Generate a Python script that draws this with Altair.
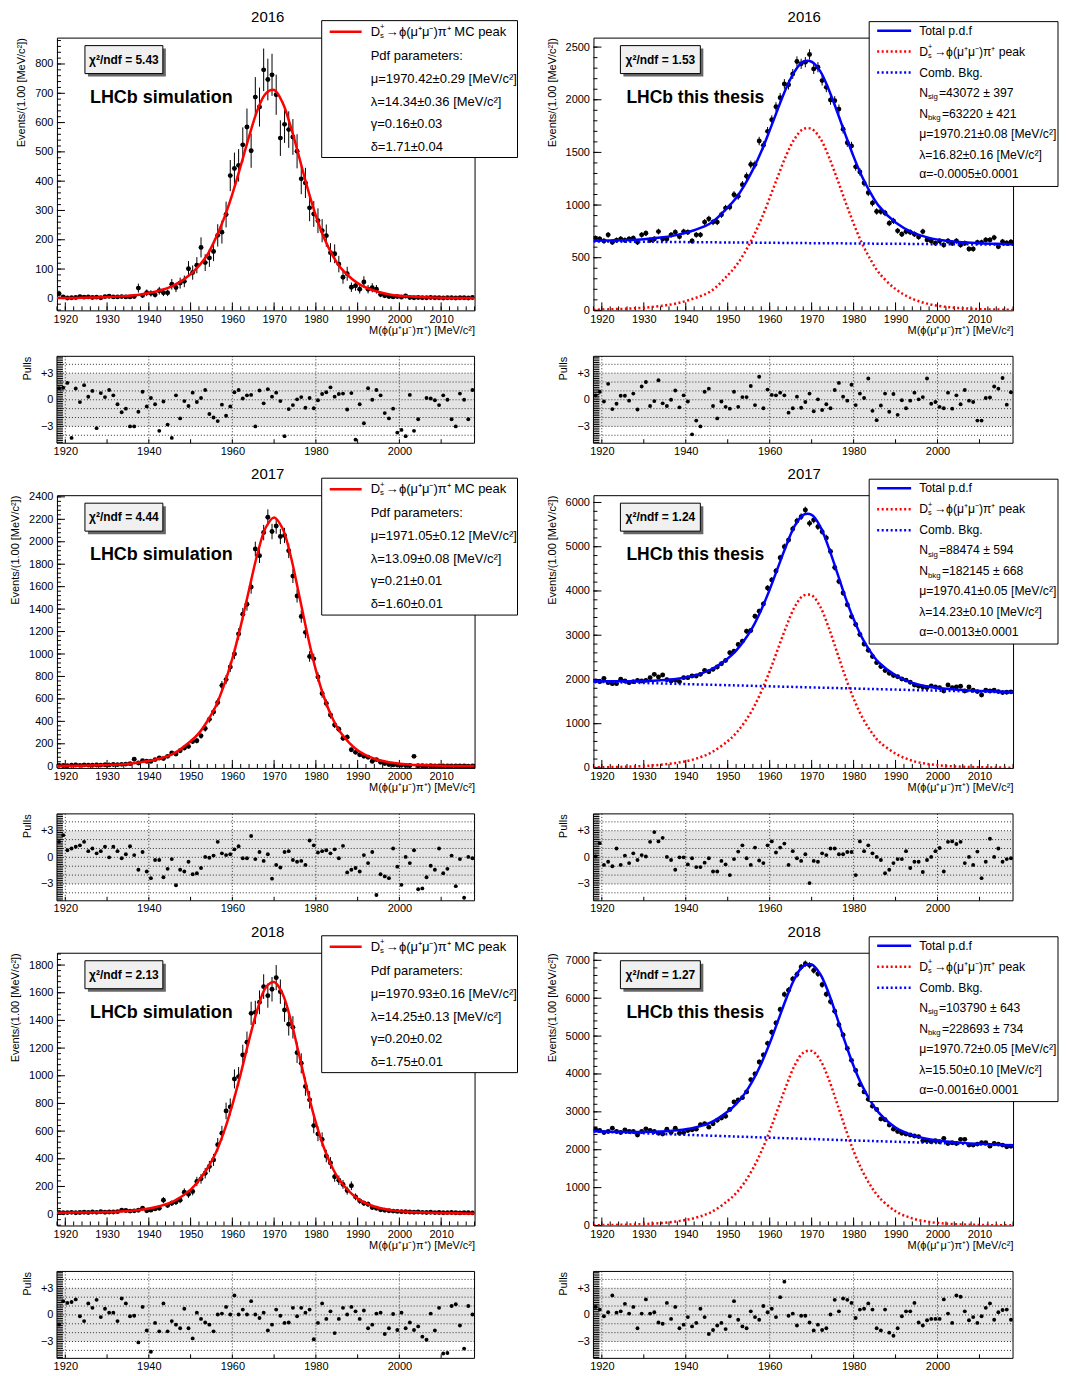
import math
import altair as alt
import pandas as pd

FONT = "Liberation Sans"

# ------------------------------------------------------------------ labels
YEARS = ["2016", "2017", "2018"]
Y_TITLE = "Events/(1.00 [MeV/c²])"
X_TITLE = "M(ϕ(μ⁺μ⁻)π⁺) [MeV/c²]"
MC_CHI2 = ["5.43", "4.44", "2.13"]
DATA_CHI2 = ["1.53", "1.24", "1.27"]
MC_PARAMS = [
    ["μ=1970.42±0.29 [MeV/c²]", "λ=14.34±0.36 [MeV/c²]", "γ=0.16±0.03", "δ=1.71±0.04"],
    ["μ=1971.05±0.12 [MeV/c²]", "λ=13.09±0.08 [MeV/c²]", "γ=0.21±0.01", "δ=1.60±0.01"],
    ["μ=1970.93±0.16 [MeV/c²]", "λ=14.25±0.13 [MeV/c²]", "γ=0.20±0.02", "δ=1.75±0.01"],
]
DATA_NSIG = ["=43072 ± 397", "=88474 ± 594", "=103790 ± 643"]
DATA_NBKG = ["=63220 ± 421", "=182145 ± 668", "=228693 ± 734"]
DATA_PARAMS = [
    ["μ=1970.21±0.08 [MeV/c²]", "λ=16.82±0.16 [MeV/c²]", "α=-0.0005±0.0001"],
    ["μ=1970.41±0.05 [MeV/c²]", "λ=14.23±0.10 [MeV/c²]", "α=-0.0013±0.0001"],
    ["μ=1970.72±0.05 [MeV/c²]", "λ=15.50±0.10 [MeV/c²]", "α=-0.0016±0.0001"],
]

# ------------------------------------------------------------------ axes
MC_Y_DOMAIN = [[-41, 890], [-15, 2415], [-82, 1889]]
MC_Y_TICKS = [list(range(0, 801, 100)), list(range(0, 2401, 200)), list(range(0, 1801, 200))]
MC_Y_MINOR = [20, 40, 40]
DATA_Y_DOMAIN = [[0, 2590], [0, 6165], [0, 7200]]
DATA_Y_TICKS = [list(range(0, 2501, 500)), list(range(0, 6001, 1000)), list(range(0, 7001, 1000))]
DATA_Y_MINOR = [100, 200, 200]
MC_ERR_SCALE = [2.6, 1.5, 2.2]   # MC weights inflate the errors w.r.t. sqrt(N)

BIN_CENTRES = [1918.5 + i for i in range(100)]
CURVE_X = [1918, 1922, 1926, 1930, 1934, 1938, 1942, 1946, 1950, 1952, 1954, 1956,
           1958, 1960, 1962, 1964, 1966, 1968, 1970, 1972, 1974, 1976, 1978, 1980,
           1982, 1984, 1986, 1990, 1994, 1998, 2002, 2006, 2010, 2014, 2018]

# ------------------------------------------------------------------ MC histograms
L16_COUNTS = [16, 5, 1, 2, 3, 6, 4, 5, 3, 4,
              2, 6, 7, 5, 5, 6, 5, 5, 6, 35,
              10, 19, 17, 12, 26, 19, 19, 48, 37, 52,
              58, 101, 88, 113, 174, 122, 138, 160, 215, 226,
              286, 419, 443, 454, 524, 585, 504, 687, 653, 780,
              747, 763, 695, 547, 594, 576, 551, 502, 408, 394,
              309, 288, 265, 231, 214, 156, 152, 117, 72, 84,
              38, 43, 31, 56, 31, 36, 31, 13, 9, 6,
              5, 6, 4, 8, 3, 2, 3, 2, 2, 3,
              2, 2, 1, 2, 2, 1, 2, 2, 1, 3]
L17_COUNTS = [8, 6, 5, 9, 11, 8, 12, 10, 9, 11,
              10, 13, 12, 15, 14, 17, 19, 23, 62, 29,
              50, 44, 44, 59, 74, 68, 88, 118, 109, 138,
              162, 177, 221, 227, 271, 336, 418, 483, 568, 719,
              772, 884, 1001, 1178, 1355, 1443, 1597, 1935, 1876, 2082,
              2218, 2091, 2141, 2047, 2056, 1920, 1694, 1517, 1334, 1193,
              978, 957, 795, 648, 560, 457, 368, 330, 250, 259,
              147, 124, 103, 88, 80, 44, 59, 35, 24, 15,
              12, 10, 8, 7, 6, 88, 5, 4, 3, 4,
              3, 2, 3, 2, 2, 3, 2, 2, 1, 2]
L18_COUNTS = [12, 10, 11, 13, 10, 12, 14, 12, 15, 13,
              17, 14, 16, 15, 18, 29, 26, 22, 24, 28,
              43, 24, 29, 38, 43, 101, 63, 79, 87, 101,
              159, 144, 164, 236, 255, 296, 344, 392, 501, 585,
              746, 775, 977, 994, 1150, 1242, 1451, 1458, 1531, 1644,
              1579, 1625, 1709, 1608, 1475, 1372, 1350, 1167, 1090, 922,
              826, 640, 580, 540, 420, 370, 270, 245, 215, 170,
              205, 125, 96, 79, 72, 48, 43, 31, 28, 25,
              22, 20, 18, 17, 15, 14, 16, 13, 12, 14,
              11, 12, 10, 11, 12, 10, 9, 11, 10, 9]

# ------------------------------------------------------------------ data histograms
R16_COUNTS = [685, 678, 659, 717, 646, 666, 678, 666, 678, 685,
              646, 717, 732, 666, 678, 748, 678, 678, 717, 742,
              700, 748, 742, 659, 717, 717, 838, 869, 838, 838,
              908, 971, 981, 1099, 1083, 1194, 1274, 1385, 1385, 1608,
              1567, 1700, 1810, 1933, 2020, 2150, 2143, 2245, 2363, 2341,
              2357, 2430, 2293, 2309, 2182, 2118, 1997, 1990, 1911, 1720,
              1592, 1561, 1363, 1315, 1210, 1118, 1019, 939, 939, 924,
              828, 850, 755, 723, 748, 742, 723, 697, 748, 669,
              659, 637, 659, 621, 659, 637, 659, 621, 637, 583,
              583, 646, 646, 669, 669, 691, 605, 653, 640, 650]
R17_COUNTS = [1965, 1950, 2025, 1928, 1905, 1905, 2003, 1965, 1928, 1950,
              1980, 1965, 1980, 2040, 2115, 2055, 2100, 1995, 1965, 1980,
              1950, 2040, 2040, 2078, 2078, 2115, 2205, 2175, 2228, 2280,
              2355, 2430, 2603, 2640, 2790, 2865, 3090, 3105, 3428, 3540,
              3705, 4066, 4250, 4450, 4750, 5000, 5153, 5400, 5581, 5679,
              5829, 5528, 5604, 5454, 5341, 5200, 4891, 4531, 4216, 3953,
              3691, 3420, 3241, 3016, 2800, 2660, 2520, 2380, 2290, 2200,
              2140, 2090, 2060, 2010, 1985, 1935, 1875, 1845, 1830, 1815,
              1853, 1830, 1815, 1740, 1875, 1815, 1830, 1845, 1740, 1830,
              1755, 1725, 1650, 1755, 1740, 1755, 1725, 1703, 1710, 1720]
R18_COUNTS = [2543, 2507, 2453, 2480, 2569, 2480, 2453, 2525, 2480, 2480,
              2390, 2480, 2551, 2507, 2480, 2435, 2417, 2543, 2453, 2569,
              2435, 2453, 2507, 2525, 2543, 2659, 2686, 2596, 2686, 2775,
              2838, 2883, 3062, 3259, 3312, 3375, 3527, 3850, 4002, 4315,
              4500, 4808, 5103, 5345, 5700, 6100, 6213, 6508, 6625, 6822,
              6911, 6867, 6732, 6643, 6356, 6106, 5909, 5658, 5300, 5031,
              4673, 4360, 4091, 3720, 3527, 3330, 3151, 3062, 2811, 2793,
              2650, 2543, 2480, 2435, 2417, 2390, 2363, 2346, 2238, 2238,
              2211, 2238, 2211, 2301, 2166, 2184, 2166, 2274, 2274, 2122,
              2122, 2149, 2184, 2184, 2095, 2166, 2149, 2122, 2077, 2090]

# ------------------------------------------------------------------ fitted curves (at CURVE_X)
L16_FIT = [1.0, 1.6, 2.6, 4.4, 7.6, 13.3, 24, 44, 82, 111, 148, 205, 273, 356, 452, 552,
           642, 699, 711, 669, 585, 482, 376, 282, 205, 147, 103, 52, 26, 12.5, 6.8, 3.7,
           2.2, 1.1, 0.7]
L17_FIT = [2.6, 4.3, 7.1, 11.5, 18.5, 36, 62, 114, 222, 295, 401, 532, 722, 958, 1248, 1573,
           1891, 2127, 2217, 2120, 1869, 1524, 1171, 857, 610, 425, 296, 142, 67, 33, 16.5, 9,
           4.7, 2.9, 1.8]
L18_FIT = [10, 11, 12, 15, 21, 32, 53, 94, 177, 245, 330, 440, 596, 790, 1015, 1258,
           1478, 1638, 1677, 1594, 1402, 1150, 891, 661, 474, 333, 232, 112, 55, 29, 17, 11,
           8, 6, 5]
R16_SIG = [6, 10, 16, 25, 41, 68, 114, 183, 333, 424, 546, 694, 867, 1067, 1277, 1477,
           1632, 1723, 1723, 1636, 1468, 1259, 1038, 825, 637, 485, 359, 202, 110, 59, 33, 20,
           11, 8, 4]
R16_BKG = [655, 654, 652, 651, 650, 649, 647, 646, 645, 644, 644, 643, 642, 642, 641, 640,
           640, 639, 638, 638, 637, 637, 636, 635, 635, 634, 633, 632, 631, 629, 628, 627,
           626, 624, 623]
R16_TOT = [661, 664, 668, 676, 691, 717, 761, 829, 978, 1068, 1190, 1337, 1509, 1709, 1918, 2117,
           2272, 2362, 2361, 2274, 2105, 1896, 1674, 1460, 1272, 1119, 992, 834, 741, 688, 661, 647,
           637, 632, 627]
R17_SIG = [11, 18, 27, 44, 71, 117, 196, 345, 605, 788, 1031, 1335, 1727, 2186, 2698, 3206,
           3645, 3893, 3901, 3653, 3188, 2632, 2068, 1569, 1156, 844, 604, 324, 161, 85, 46, 26,
           15, 9, 5]
R17_BKG = [1950, 1940, 1930, 1920, 1910, 1900, 1890, 1880, 1870, 1865, 1860, 1855, 1850, 1845,
           1840, 1835, 1830, 1825, 1820, 1815, 1810, 1805, 1800, 1795, 1790, 1785, 1780, 1771,
           1761, 1752, 1743, 1734, 1725, 1716, 1712]
R17_TOT = [1961, 1958, 1957, 1964, 1981, 2017, 2086, 2225, 2475, 2653, 2891, 3190, 3577, 4031,
           4538, 5041, 5475, 5718, 5721, 5468, 4998, 4437, 3868, 3364, 2946, 2629, 2384, 2095,
           1922, 1837, 1789, 1760, 1740, 1725, 1717]
R18_SIG = [8, 13, 22, 37, 63, 110, 194, 349, 652, 855, 1133, 1500, 1953, 2491, 3096, 3703,
           4235, 4559, 4609, 4373, 3884, 3245, 2580, 1965, 1460, 1062, 754, 376, 187, 95, 50, 26,
           14, 8, 4]
R18_BKG = [2480, 2464, 2448, 2433, 2417, 2402, 2386, 2371, 2356, 2348, 2341, 2333, 2326, 2318,
           2311, 2304, 2296, 2289, 2282, 2274, 2267, 2260, 2253, 2246, 2239, 2232, 2225, 2211,
           2197, 2183, 2169, 2155, 2141, 2127, 2113]
R18_TOT = [2488, 2477, 2470, 2470, 2480, 2512, 2580, 2720, 3008, 3203, 3474, 3833, 4279, 4809,
           5407, 6007, 6531, 6848, 6891, 6647, 6151, 5505, 4833, 4211, 3699, 3294, 2979, 2587,
           2384, 2278, 2219, 2181, 2155, 2135, 2117]

# ------------------------------------------------------------------ pulls
L16_PULL = [1.3, 1.35, 1.9, -4.3, 1.27, -0.26, 1.65, 0.34, 1.0, -3.2,
            0.75, 0.3, 1.1, 0.5, -0.5, -1.4, -1.0, -3.0, -3.0, -1.35,
            0.9, -0.75, 0.2, -0.5, -3.5, -0.2, -2.8, -4.3, 0.5, -2.1,
            -0.15, -0.7, 0.8, -0.25, 0.2, 1.1, -1.6, -2.0, -2.4, -0.55,
            -1.8, -0.75, 0.85, 1.1, 0.15, 0.5, 0.55, -3.0, 1.05, -0.4,
            1.2, 0.35, 0.8, -0.15, -4.1, -1.05, -0.6, 0.05, 0.3, -0.9,
            0.2, -0.95, -0.05, 0.65, 0.85, 1.4, 0.35, 0.65, 0.7, -1.1,
            0.75, -4.5, -0.5, -2.65, 1.3, 0.0, 1.1, 0.5, -1.5, -2.1,
            -1.0, -3.7, -3.4, -4.1, 0.55, -3.5, -2.2, None, 0.2, 0.15,
            -0.05, -0.6, 0.5, 0.0, -2.2, -3.0, 0.7, 0.0, -2.2, 1.1]
R16_PULL = [0.5, 0.9, -0.2, 1.8, -1.05, -0.45, 0.45, 0.45, -0.1, 0.7,
            -1.1, 1.5, 2.0, -0.7, -0.15, 2.2, -0.4, -0.7, 0.0, 1.05,
            -0.85, 0.5, -0.2, -3.9, -2.35, -3.0, 0.9, 1.25, -0.7, -2.1,
            -0.2, -0.8, -1.0, 0.9, -0.8, 0.3, 0.3, 1.55, -0.6, 2.6,
            -0.95, 1.15, 0.55, 0.5, 0.8, 0.5, -1.45, -0.95, 0.35, -0.9,
            -0.25, 0.7, -1.3, 0.05, -1.15, -0.5, -0.95, 1.1, 1.9, 0.35,
            -0.1, 1.7, -0.6, 0.7, 0.2, 2.4, -1.25, -2.3, -0.65, 0.7,
            -1.35, 0.65, -1.7, -0.05, -0.95, -0.1, 0.8, 0.05, 0.3, 2.4,
            -0.45, -0.25, -0.8, -0.95, 0.8, -1.0, 0.5, -0.5, 1.1, -0.1,
            -0.25, -2.35, -2.35, 0.2, 0.25, 1.5, 1.25, 2.45, -0.55, 0.85]
L17_PULL = [1.75, 2.5, 0.8, 1.0, 1.2, 1.35, 1.75, 0.7, 1.0, 0.45,
            0.7, 1.2, 0.0, 1.2, 0.7, -0.1, 0.35, 1.25, 0.25, -1.4,
            0.6, -1.6, -2.35, -0.3, -0.3, -2.25, -1.3, -0.2, -3.15, -1.4,
            -1.6, -0.5, -1.9, -1.8, -1.2, 0.05, -0.05, 0.2, 1.75, 0.45,
            0.25, 0.35, 0.9, 1.25, -0.1, -0.1, 2.4, -0.2, 0.6, -0.4,
            0.35, -2.4, -0.85, -1.15, 0.6, 0.7, -0.3, -0.5, -0.4, -0.85,
            1.9, 1.35, 0.55, 0.7, 0.8, 0.45, 0.9, -0.1, 1.3, -1.7,
            -1.4, -1.2, -1.6, 0.25, -0.65, 0.6, -4.25, -1.9, -2.15, -2.35,
            1.0, -1.05, -3.1, 0.05, -0.65, 0.8, -3.6, -3.5, -2.25, -0.95,
            -1.4, 1.0, -1.8, -1.3, 0.2, -3.25, -0.2, -4.55, 0.05, -0.1]
R17_PULL = [0.1, 1.6, -0.85, -0.5, -1.0, 1.0, -0.85, 0.2, -0.65, 0.45,
            -0.3, 0.25, 0.1, 1.75, 2.85, 1.8, 2.2, 0.05, -0.3, -1.4,
            0.0, 0.0, -0.8, -0.1, -1.1, -1.1, -0.6, -0.1, -1.6, -1.6,
            -0.4, -0.8, -2.0, -0.2, 0.65, 1.35, -0.1, -0.85, 1.1, -0.35,
            -0.65, 1.35, 1.8, 0.55, 1.1, 1.55, -0.85, 0.7, -0.1, -0.4,
            0.35, -2.9, -0.4, -0.5, 0.45, 0.25, 1.0, 1.0, 0.35, 0.35,
            0.6, 0.6, -2.0, 1.8, 0.7, 1.35, 0.45, 0.05, -0.3, -1.8,
            -1.4, -0.65, -0.2, -0.2, 0.7, -1.2, -0.5, -0.5, -1.65, -0.3,
            0.05, 0.7, 1.05, -1.6, 1.75, 1.8, 1.5, 1.75, -0.65, 0.05,
            -0.85, 0.65, -2.35, -0.5, 2.1, 0.05, 1.0, -0.5, -0.2, -0.1]
L18_PULL = [-1.1, 1.55, 1.35, 1.45, 1.75, -0.15, -0.7, 1.3, 0.8, 1.7,
            -0.25, 0.7, 0.25, 0.25, -0.7, 1.85, 1.3, -0.15, -0.1, -3.1,
            0.9, -1.75, -4.15, -0.9, -1.85, 1.3, -1.85, -0.7, -1.1, -1.5,
            0.7, -1.5, -2.65, 0.25, -0.45, -0.85, -1.1, -1.85, 0.05, 0.15,
            0.9, 0.05, 2.2, 0.05, 0.6, 0.05, 1.55, 0.05, -0.35, 0.25,
            -1.75, -1.1, 0.6, -0.1, -0.9, -0.85, 0.8, -0.15, 0.8, 0.25,
            0.6, -2.75, -0.9, 1.3, -0.45, 0.4, -2.05, -0.45, 0.8, 0.05,
            0.9, 0.4, -0.45, 0.5, -1.5, -1.1, 0.15, 0.25, -2.15, -1.5,
            0.1, -1.7, 0.25, -1.5, -0.85, -1.7, -1.3, -2.45, -2.8, 0.15,
            -1.75, 0.8, -4.35, -4.3, 1.0, 1.2, -1.2, -3.8, 1.0, 0.05]
R18_PULL = [0.9, 0.6, -0.15, 0.3, 2.2, 0.25, 0.4, 1.25, 0.15, 0.9,
            -1.5, 0.15, 1.75, 0.15, 0.3, -0.85, -1.0, 1.35, -0.45, 0.9,
            -1.5, -1.1, -0.25, -1.3, -0.9, 0.7, -0.25, -2.15, -1.7, -1.2,
            -0.9, -1.6, -0.15, 1.55, -0.55, -1.3, -1.5, 0.4, -0.25, -0.55,
            1.0, 0.3, 0.7, -0.25, 2.0, 3.75, -0.1, 0.15, -1.2, -0.1,
            -0.1, -0.85, -1.75, -1.1, -1.7, -1.5, 0.05, 1.7, 0.4, 1.85,
            1.7, 1.35, -0.35, 0.6, 0.7, 1.3, 0.6, -1.5, -1.75, 0.6,
            -2.0, -2.35, -1.5, -0.15, 0.4, 0.4, 1.35, -0.85, -1.2, -0.6,
            -0.45, -0.45, -0.45, 1.75, 0.15, -0.9, 2.2, 2.05, 0.4, -0.6,
            -0.25, -0.9, -0.15, 0.8, 1.3, -0.55, 0.3, 0.55, 0.6, -0.55]

MC_COUNTS = [L16_COUNTS, L17_COUNTS, L18_COUNTS]
MC_FITS = [L16_FIT, L17_FIT, L18_FIT]
DATA_COUNTS = [R16_COUNTS, R17_COUNTS, R18_COUNTS]
DATA_CURVES = [(R16_TOT, R16_SIG, R16_BKG), (R17_TOT, R17_SIG, R17_BKG), (R18_TOT, R18_SIG, R18_BKG)]
MC_PULLS = [L16_PULL, L17_PULL, L18_PULL]
DATA_PULLS = [R16_PULL, R17_PULL, R18_PULL]

# ------------------------------------------------------------------ geometry / style
W_L, W_R = 418, 420
H_MAIN, H_PULL = 273, 87
ROW_SPACING, COL_SPACING = 49, 119
PULL_SHIFT = 3
RED, BLUE = "#ff0000", "#0000ff"
DOTS = [2, 2.5]
LEG_FS_MC = 13
LEG_FS_DATA = 12.2
ONE = pd.DataFrame({"k": [0]})


def txt(s, x, y, size=12.0, weight="normal", align="left"):
    return alt.Chart(ONE).mark_text(
        text=s, align=align, baseline="middle", font=FONT, fontSize=size,
        fontWeight=weight, color="black").encode(x=alt.value(x), y=alt.value(y))


def rect(x1, y1, x2, y2, fill, stroke=""):
    kw = dict(fill=fill)
    if stroke:
        kw.update(stroke=stroke, strokeWidth=1)
    return alt.Chart(ONE).mark_rect(**kw).encode(
        x=alt.value(x1), x2=alt.value(x2), y=alt.value(y1), y2=alt.value(y2))


def seg(x1, y1, x2, y2, color, width=1.0, dash=None):
    kw = dict(color=color, strokeWidth=width)
    if dash:
        kw["strokeDash"] = dash
    return alt.Chart(ONE).mark_rule(**kw).encode(
        x=alt.value(x1), x2=alt.value(x2), y=alt.value(y1), y2=alt.value(y2))


def ds_label(x, y, rest, size):
    dx = 0.72 * size
    return [txt("D", x, y, size), txt("+", x + dx, y - 4.5, size * 0.6),
            txt("s", x + dx, y + 4, size * 0.6), txt(rest, x + dx + 6, y, size)]


def n_label(x, y, sub, rest, size, subw):
    dx = 0.72 * size
    return [txt("N", x, y, size), txt(sub, x + dx, y + 4.5, size * 0.64),
            txt(rest, x + dx + subw, y, size)]


def chi_box(x1, y1, x2, y2, label):
    return [rect(x1 + 3, y1 + 3, x2 + 3, y2 + 3, "#666666"),
            rect(x1, y1, x2, y2, "#f0f0f0", "black"),
            txt(label, (x1 + x2) / 2, (y1 + y2) / 2, 12, weight="bold", align="center")]


def axis_common():
    return dict(ticks=False, domain=False, grid=False, labelFont=FONT, labelFontSize=11,
                labelColor="black", labelOverlap=False, labelFlush=False,
                titleFont=FONT, titleFontSize=11, titleFontWeight="normal",
                titleColor="black", titleAnchor="end")


def main_panel(width, counts, err_scale, ydom, ymajor, yminor, curves, decor):
    xs = alt.Scale(domain=[1918, 2018], nice=False, zero=False)
    ys = alt.Scale(domain=ydom, nice=False, zero=False)
    xax = alt.Axis(values=list(range(1920, 2011, 10)), format="d", labelPadding=3,
                   title=X_TITLE, titlePadding=0, **axis_common())
    yax = alt.Axis(values=ymajor, format="d", labelPadding=4, title=Y_TITLE,
                   titlePadding=8, **axis_common())

    def X(f):
        return alt.X(f"{f}:Q", scale=xs, axis=xax)

    def Y(f):
        return alt.Y(f"{f}:Q", scale=ys, axis=yax)

    H = H_MAIN
    layers = []
    ymin_vals = [k * yminor for k in range(math.ceil(ydom[0] / yminor), math.floor(ydom[1] / yminor) + 1)]
    layers.append(alt.Chart(pd.DataFrame({"t": ymin_vals})).mark_rule(color="black", strokeWidth=1)
                  .encode(y=Y("t"), x=alt.value(0), x2=alt.value(4)))
    layers.append(alt.Chart(pd.DataFrame({"t": ymajor})).mark_rule(color="black", strokeWidth=1)
                  .encode(y=Y("t"), x=alt.value(0), x2=alt.value(8)))
    layers.append(alt.Chart(pd.DataFrame({"t": list(range(1918, 2019, 2))})).mark_rule(color="black", strokeWidth=1)
                  .encode(x=X("t"), y=alt.value(H), y2=alt.value(H - 4)))
    layers.append(alt.Chart(pd.DataFrame({"t": list(range(1920, 2011, 10))})).mark_rule(color="black", strokeWidth=1)
                  .encode(x=X("t"), y=alt.value(H), y2=alt.value(H - 8)))

    hist = pd.DataFrame({"m": BIN_CENTRES, "n": counts})
    hist["e"] = [err_scale * math.sqrt(v) for v in counts]
    hist["lo"] = hist["n"] - hist["e"]
    hist["hi"] = hist["n"] + hist["e"]
    hist["ml"] = hist["m"] - 0.5
    hist["mr"] = hist["m"] + 0.5
    base = alt.Chart(hist)
    layers.append(base.mark_rule(color="black", strokeWidth=1, clip=True)
                  .encode(x=X("m"), y=Y("lo"), y2=alt.Y2("hi")))
    layers.append(base.mark_rule(color="black", strokeWidth=1, clip=True)
                  .encode(x=X("ml"), x2=alt.X2("mr"), y=Y("n")))
    layers.append(base.mark_circle(color="black", size=24, opacity=1, clip=True)
                  .encode(x=X("m"), y=Y("n")))
    for vals, color, dash in curves:
        cdf = pd.DataFrame({"x": CURVE_X, "v": vals})
        kw = dict(color=color, strokeWidth=2.5, interpolate="catmull-rom", clip=True)
        if dash:
            kw["strokeDash"] = dash
        layers.append(alt.Chart(cdf).mark_line(**kw).encode(x=X("x"), y=Y("v")))
    layers.extend(decor)
    return alt.layer(*layers).properties(width=width, height=H)


def pull_panel(width, pulls):
    top, bot = -PULL_SHIFT, H_PULL - PULL_SHIFT
    xs = alt.Scale(domain=[1918, 2018], nice=False, zero=False)
    ys = alt.Scale(domain=[-4.9, 4.9], range=[bot, top], nice=False, zero=False)
    xax = alt.Axis(values=[1920, 1940, 1960, 1980, 2000], format="d", labelPadding=2,
                   offset=-PULL_SHIFT, title="", **axis_common())
    yax = alt.Axis(values=[-3, 0, 3], labelPadding=4, title="Pulls", titlePadding=8,
                   labelExpr="datum.value > 0 ? '+' + datum.value : (datum.value < 0 ? '−' + (-datum.value) : '0')",
                   **axis_common())

    def X(f):
        return alt.X(f"{f}:Q", scale=xs, axis=xax)

    def Y(f):
        return alt.Y(f"{f}:Q", scale=ys, axis=yax)

    layers = []
    layers.append(alt.Chart(pd.DataFrame({"a": [-3], "b": [3]})).mark_rect(color="#e3e3e3")
                  .encode(y=Y("a"), y2=alt.Y2("b"), x=alt.value(0), x2=alt.value(width)))
    layers.append(alt.Chart(pd.DataFrame({"g": [-4, -3, -2, -1, 0, 1, 2, 3, 4]}))
                  .mark_rule(color="#333333", strokeWidth=1, strokeDash=[1, 2])
                  .encode(y=Y("g"), x=alt.value(0), x2=alt.value(width)))
    layers.append(alt.Chart(pd.DataFrame({"g": [1920, 1940, 1960, 1980, 2000]}))
                  .mark_rule(color="#333333", strokeWidth=1, strokeDash=[1, 2])
                  .encode(x=X("g"), y=alt.value(top), y2=alt.value(bot)))
    layers.append(alt.Chart(pd.DataFrame({"t": [round(-4.8 + 0.2 * k, 1) for k in range(49)]}))
                  .mark_rule(color="black", strokeWidth=1)
                  .encode(y=Y("t"), x=alt.value(0), x2=alt.value(6)))
    layers.append(alt.Chart(pd.DataFrame({"t": list(range(1920, 2011, 10))}))
                  .mark_rule(color="black", strokeWidth=1)
                  .encode(x=X("t"), y=alt.value(bot), y2=alt.value(bot - 4)))
    pdf = pd.DataFrame({"m": BIN_CENTRES, "p": pulls})
    layers.append(alt.Chart(pdf).transform_filter("isValid(datum.p)")
                  .mark_circle(color="black", size=15, opacity=1, clip=True)
                  .encode(x=X("m"), y=Y("p")))
    layers.append(alt.Chart(ONE).mark_rect(fill="white", fillOpacity=0, stroke="black", strokeWidth=1)
                  .encode(x=alt.value(0), x2=alt.value(width), y=alt.value(top), y2=alt.value(bot)))
    return alt.layer(*layers).properties(width=width, height=H_PULL,
                                         view=alt.ViewBackground(strokeOpacity=0))


def mc_decor(i):
    fs = LEG_FS_MC
    d = [txt(YEARS[i], 211, -21, 15, align="center")]
    d += chi_box(28, 8, 106, 36, "χ²/ndf = " + MC_CHI2[i])
    d.append(txt("LHCb simulation", 33, 60, 18, weight="bold"))
    d.append(rect(265, -17, 461, 120, "white", "black"))
    d.append(seg(273, -6, 305, -6, RED, 2.5))
    d += ds_label(314, -6, "→ϕ(μ⁺μ⁻)π⁺ MC peak", fs)
    d.append(txt("Pdf parameters:", 314, 18, fs))
    for k, s in enumerate(MC_PARAMS[i]):
        d.append(txt(s, 314, [41, 64, 86, 109][k], fs))
    return d


def data_decor(i):
    fs = LEG_FS_DATA
    d = [txt(YEARS[i], 211, -21, 15, align="center")]
    d += chi_box(27, 8, 107, 36, "χ²/ndf = " + DATA_CHI2[i])
    d.append(txt("LHCb this thesis", 33, 60, 17.5, weight="bold"))
    d.append(rect(276, -16, 465, 149, "white", "black"))
    yy = [-7, 14, 35, 55, 76, 96, 117, 137]
    d.append(seg(284, yy[0], 318, yy[0], BLUE, 2.5))
    d.append(seg(284, yy[1], 318, yy[1], RED, 2.5, DOTS))
    d.append(seg(284, yy[2], 318, yy[2], BLUE, 2.5, DOTS))
    d.append(txt("Total p.d.f", 326, yy[0], fs))
    d += ds_label(326, yy[1], "→ϕ(μ⁺μ⁻)π⁺ peak", fs)
    d.append(txt("Comb. Bkg.", 326, yy[2], fs))
    d += n_label(326, yy[3], "sig", DATA_NSIG[i], fs, 11)
    d += n_label(326, yy[4], "bkg", DATA_NBKG[i], fs, 14)
    for k, s in enumerate(DATA_PARAMS[i]):
        d.append(txt(s, 326, yy[5 + k], fs))
    return d


cells = []
for i in range(3):
    cells.append(main_panel(W_L, MC_COUNTS[i], MC_ERR_SCALE[i], MC_Y_DOMAIN[i], MC_Y_TICKS[i],
                            MC_Y_MINOR[i], [(MC_FITS[i], RED, None)], mc_decor(i)))
    tot, sig, bkg = DATA_CURVES[i]
    cells.append(main_panel(W_R, DATA_COUNTS[i], 1.0, DATA_Y_DOMAIN[i], DATA_Y_TICKS[i],
                            DATA_Y_MINOR[i],
                            [(sig, RED, DOTS), (bkg, BLUE, DOTS), (tot, BLUE, None)],
                            data_decor(i)))
    cells.append(pull_panel(W_L, MC_PULLS[i]))
    cells.append(pull_panel(W_R, DATA_PULLS[i]))

chart = alt.concat(*cells, columns=2, spacing={"row": ROW_SPACING, "column": COL_SPACING},
                   bounds="flush").properties(
    padding={"left": 1, "top": 0, "right": 0, "bottom": 0}
).configure(font=FONT).configure_view(stroke="black", strokeWidth=1)

chart.save("out.html", embed_options={"renderer": "svg", "actions": False})
